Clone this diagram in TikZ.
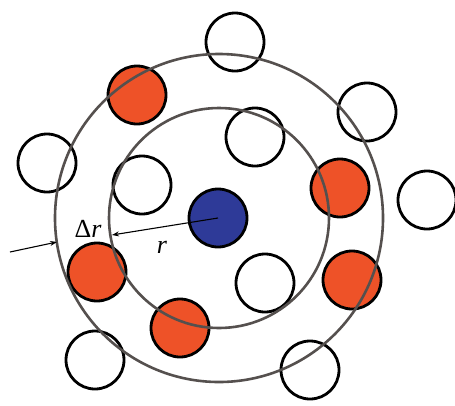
\documentclass[tikz,border=0pt]{standalone}
\usepackage{fontspec}
\newfontfamily\labfont{Liberation Serif}
\usetikzlibrary{arrows.meta}
\definecolor{atomred}{RGB}{238,82,40}
\definecolor{atomblue}{RGB}{46,58,152}
\definecolor{ringgray}{RGB}{85,80,78}
\begin{document}
\begin{tikzpicture}[x=1pt,y=-1pt,
  atom/.style={circle,draw=black,line width=2.8pt,minimum size=58pt,inner sep=0pt},
  hollow/.style={atom,fill=white},
  redatom/.style={atom,fill=atomred},
  blueatom/.style={atom,fill=atomblue},
  ring/.style={draw=ringgray,line width=2.6pt},
  arr/.style={line width=1.1pt,-{Stealth[length=7pt,width=5pt]}},
  lab/.style={font=\labfont\fontsize{26}{26}\selectfont,inner sep=0pt}]
\useasboundingbox (0,0) rectangle (455,405);
% atoms
\node[hollow] (w1) at (235,42) {};
\node[redatom] (r1) at (137,95) {};
\node[hollow] (w2) at (367,112) {};
\node[hollow] (w3) at (255,137) {};
\node[hollow] (w4) at (47,163) {};
\node[hollow] (w5) at (142,185) {};
\node[redatom] (r2) at (340,188) {};
\node[hollow] (w6) at (427,200) {};
\node[blueatom] (c) at (218,218) {};
\node[redatom] (r3) at (97,272) {};
\node[hollow] (w7) at (265,283) {};
\node[redatom] (r4) at (352,280) {};
\node[redatom] (r5) at (180,328) {};
\node[hollow] (w8) at (95,360) {};
\node[hollow] (w9) at (310,370) {};
% rings
\draw[ring] (219,218) circle[radius=110];
\draw[ring] (219,218) circle[radius=164];
% arrows
\coordinate (rtip) at (112,235);
\coordinate (dstart) at (10,252);
\coordinate (dtip) at (57,242);
\draw[arr] (c.center) -- (rtip);
\draw[arr] (dstart) -- (dtip);
% labels
\node[lab] (dr) at (88,229) {Δ{\itshape r}};
\node[lab] (rl) at (162,247) {{\itshape r}};
\end{tikzpicture}
\end{document}
